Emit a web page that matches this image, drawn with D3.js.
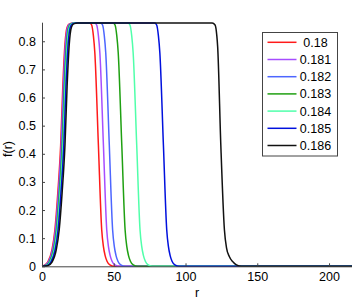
<!DOCTYPE html>
<html>
<head>
<meta charset="utf-8">
<script src="https://cdn.jsdelivr.net/npm/d3@7"></script>
<style>
  html, body { margin: 0; padding: 0; background: #fff; }
  svg { display: block; }
  text { font-family: "Liberation Sans", Arial, Helvetica, sans-serif; }
</style>
</head>
<body>
<svg id="chart" width="357" height="300"></svg>
<script>
// ---- data ----
const seriesNames = ["0.18", "0.181", "0.182", "0.183", "0.184", "0.185", "0.186"];
const seriesColors = ["#ff1a1a", "#a64dff", "#4d66ff", "#1fa012", "#50ffaa", "#0010dd", "#111111"];

const s018 = [[0,0],[1,0.002],[4,0.015],[7,0.06],[9,0.13],[11,0.26],[13,0.43],[14.5,0.64],[16,0.79],[17.5,0.85],[19,0.862],[22,0.865],[33.3,0.865],[34.6,0.858],[35.8,0.82],[36.8,0.76],[39.3,0.43],[41.6,0.13],[42.8,0.07],[43.9,0.04],[45.3,0.018],[47.3,0.005],[50.3,0],[216,0]];
const s0181 = [[0,0],[1.4,0.002],[4.4,0.015],[7.4,0.06],[9.4,0.13],[11.4,0.26],[13.4,0.43],[14.9,0.64],[16.4,0.79],[17.9,0.85],[19.4,0.862],[22.4,0.865],[36.8,0.865],[38.1,0.858],[39.3,0.82],[40.3,0.76],[42.8,0.43],[45.1,0.13],[46.3,0.07],[47.4,0.04],[48.8,0.018],[50.8,0.005],[53.8,0],[216,0]];
const s0182 = [[0,0],[1.8,0.002],[4.8,0.015],[7.8,0.06],[9.8,0.13],[11.8,0.26],[13.8,0.43],[15.3,0.64],[16.8,0.79],[18.3,0.85],[19.8,0.862],[22.8,0.865],[40.9,0.865],[42.2,0.858],[43.4,0.82],[44.4,0.76],[46.9,0.43],[49.2,0.13],[50.4,0.07],[51.5,0.04],[52.9,0.018],[54.9,0.005],[57.9,0],[216,0]];
const s0183 = [[0,0],[2.2,0.002],[5.2,0.015],[8.2,0.06],[10.2,0.13],[12.2,0.26],[14.2,0.43],[15.7,0.64],[17.2,0.79],[18.7,0.85],[20.2,0.862],[23.2,0.865],[49.6,0.865],[50.9,0.858],[52.1,0.82],[53.1,0.76],[55.6,0.43],[57.9,0.13],[59.1,0.07],[60.2,0.04],[61.6,0.018],[63.6,0.005],[66.6,0],[216,0]];
const s0184 = [[0,0],[2.6,0.002],[5.6,0.015],[8.6,0.06],[10.6,0.13],[12.6,0.26],[14.6,0.43],[16.1,0.64],[17.6,0.79],[19.1,0.85],[20.6,0.862],[23.6,0.865],[60,0.865],[61.3,0.858],[62.5,0.82],[63.5,0.76],[66,0.43],[68.3,0.13],[69.5,0.07],[70.6,0.04],[72,0.018],[74,0.005],[77,0],[216,0]];
const s0185 = [[0,0],[3.2,0.002],[6.2,0.015],[9.2,0.06],[11.2,0.13],[13.2,0.26],[15.2,0.43],[16.7,0.64],[18.2,0.79],[19.7,0.85],[21.2,0.862],[24.2,0.865],[78.6,0.865],[79.9,0.858],[81.1,0.82],[82.1,0.76],[84.6,0.43],[86.9,0.13],[88.1,0.07],[89.2,0.04],[90.6,0.018],[92.6,0.005],[95.6,0],[216,0]];
const s0186 = [[0,0],[4,0.002],[7,0.015],[10,0.06],[12,0.13],[14,0.26],[16,0.43],[17.5,0.64],[19,0.79],[20.5,0.85],[22,0.862],[25,0.865],[118.6,0.865],[120.6,0.858],[121.8,0.82],[122.4,0.78],[124.6,0.43],[127.1,0.13],[128.6,0.065],[130.5,0.035],[133,0.016],[135.5,0.005],[139,0],[216,0]];

const seriesValues = [s018, s0181, s0182, s0183, s0184, s0185, s0186];
const xTicks = [0, 50, 100, 150, 200];
const yTicks = [0, 0.1, 0.2, 0.3, 0.4, 0.5, 0.6, 0.7, 0.8];
const xLabel = "r";
const yLabel = "f(r)";

// ---- layout ----
const svg = d3.select("#chart");
const mLeft = 42, mRight = 352, mTop = 22.7, mBottom = 266.3;
const x = d3.scaleLinear().domain([0, 216]).range([mLeft, mRight]);
const y = d3.scaleLinear().domain([0, 0.866]).range([mBottom, mTop]);
const axisColor = "#444";
const fontSize = 12.5;

// curves
const line = d3.line().x(d => x(d[0])).y(d => y(d[1])).curve(d3.curveMonotoneX);
const g = svg.append("g");
seriesValues.forEach((vals, i) => {
  g.append("path")
    .attr("d", line(vals))
    .attr("fill", "none")
    .attr("stroke", seriesColors[i])
    .attr("stroke-width", 1.5)
    .attr("stroke-linejoin", "round");
});

// axes
const xAxis = d3.axisBottom(x).tickValues(xTicks).tickSize(-3).tickPadding(6).tickFormat(d3.format("d"));
const yAxis = d3.axisLeft(y).tickValues(yTicks).tickSize(-3).tickPadding(6).tickFormat(d => d === 0 ? "0" : d3.format(".1f")(d));

const gx = svg.append("g").attr("transform", `translate(0,${mBottom})`).call(xAxis);
const gy = svg.append("g").attr("transform", `translate(${mLeft},0)`).call(yAxis);
[gx, gy].forEach(a => {
  a.select(".domain").attr("stroke", axisColor).attr("stroke-width", 1);
  a.selectAll(".tick line").attr("stroke", axisColor);
  a.selectAll(".tick text").attr("fill", "#000").style("font-size", fontSize + "px")
    .style("font-family", '"Liberation Sans", Arial, sans-serif');
});
gx.select(".domain").attr("d", `M${mLeft},0.5H${mRight}`);
gy.select(".domain").attr("d", `M0.5,${mBottom}V${mTop}`);

// axis labels
svg.append("text").attr("x", 197).attr("y", 297).attr("text-anchor", "middle")
  .style("font-size", fontSize + "px").text(xLabel);
svg.append("text").attr("transform", `translate(12,149) rotate(-90)`).attr("text-anchor", "middle")
  .style("font-size", fontSize + "px").text(yLabel);

// legend
const lg = svg.append("g");
lg.append("rect").attr("x", 262.5).attr("y", 32.5).attr("width", 75).attr("height", 123.5)
  .attr("fill", "#fff").attr("stroke", axisColor).attr("stroke-width", 1);
seriesNames.forEach((name, i) => {
  const ly = 42.3 + i * 17.2;
  lg.append("line").attr("x1", 267.5).attr("x2", 296.5).attr("y1", ly).attr("y2", ly)
    .attr("stroke", seriesColors[i]).attr("stroke-width", 1.5);
  lg.append("text").attr("x", 315.5).attr("y", ly + 4.5).attr("text-anchor", "middle")
    .style("font-size", fontSize + "px").text(name);
});
</script>
</body>
</html>
